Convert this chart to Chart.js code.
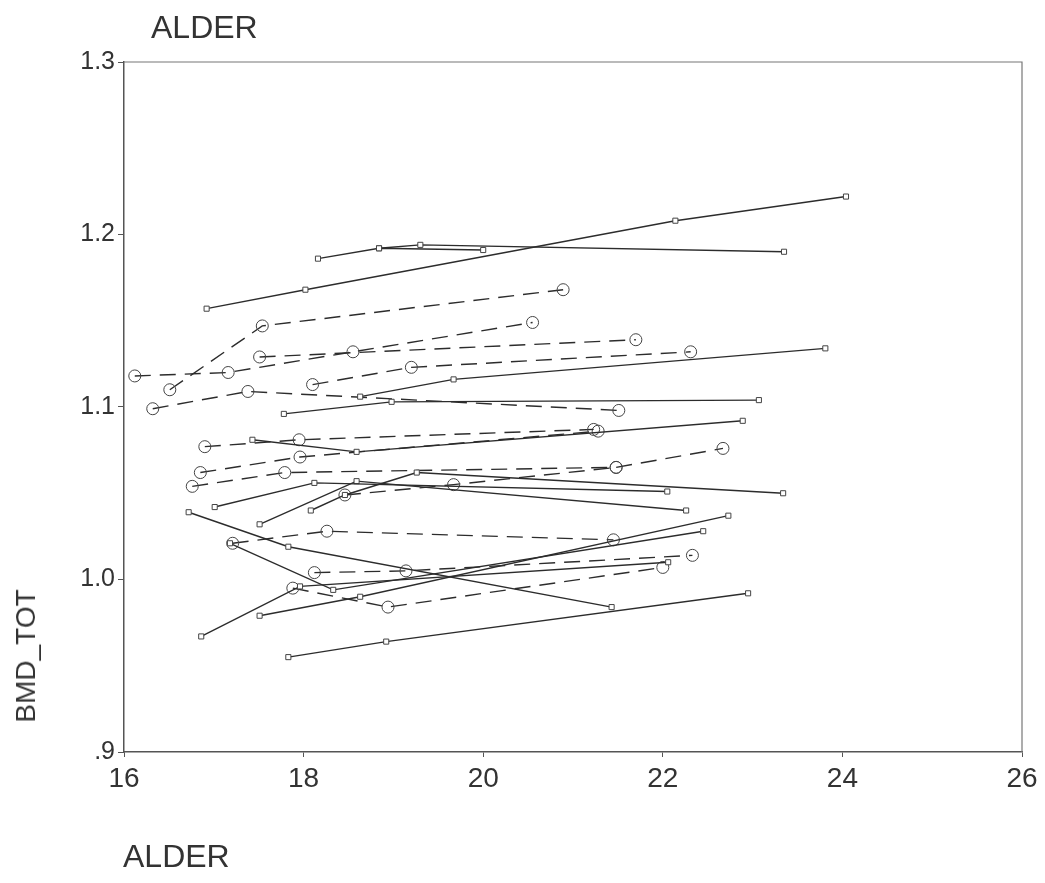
<!DOCTYPE html>
<html>
<head>
<meta charset="utf-8">
<script src="https://cdn.jsdelivr.net/npm/chart.js@4.4.1/dist/chart.umd.min.js"></script>
<style>
  html, body { margin:0; padding:0; background:#fff; }
  #wrap { position:relative; width:1045px; height:883px; overflow:hidden; }
  canvas { position:absolute; left:0; top:0; }
  .lbl { position:absolute; font-family:"Liberation Sans", Arial, sans-serif; color:#333; line-height:1; white-space:nowrap; }
</style>
</head>
<body>
<div id="wrap">
  <canvas id="c" width="1045" height="883"></canvas>
  <div class="lbl" id="tTop" style="left:151px; top:11px; font-size:32px;">ALDER</div>
  <div class="lbl" id="tY" style="left:26px; top:656px; font-size:28px; transform:translate(-50%,-50%) rotate(-90deg);">BMD_TOT</div>
  <div class="lbl" id="tBot" style="left:123px; top:840px; font-size:32px;">ALDER</div>
</div>
<script>
// ---- Data: each subject = [ALDER, BMD_TOT] pairs ----
// solid lines, square markers
const sA = [[16.92,1.157],[18.02,1.168],[22.14,1.208],[24.04,1.222]];
const sB = [[18.16,1.186],[18.84,1.192],[20.00,1.191]];
const sC = [[18.84,1.192],[19.30,1.194],[23.35,1.190]];
const sD = [[18.63,1.106],[19.67,1.116],[23.81,1.134]];
const sE = [[17.78,1.096],[18.98,1.103],[23.07,1.104]];
const sF = [[17.43,1.081],[18.59,1.074],[22.89,1.092]];
const sG = [[17.01,1.042],[18.12,1.056],[22.05,1.051]];
const sH = [[17.51,1.032],[18.59,1.057],[22.26,1.040]];
const sI = [[18.08,1.040],[18.46,1.049],[19.26,1.062],[23.34,1.050]];
const sJ = [[16.72,1.039],[17.83,1.019],[21.43,0.984]];
const sK = [[17.18,1.021],[18.33,0.994],[22.45,1.028]];
const sL = [[16.86,0.967],[17.96,0.996],[22.06,1.010]];
const sM = [[17.51,0.979],[18.63,0.990],[22.73,1.037]];
const sN = [[17.83,0.955],[18.92,0.964],[22.95,0.992]];
// dashed lines, circle markers
const dA = [[16.51,1.110],[17.54,1.147],[20.89,1.168]];
const dB = [[16.12,1.118],[17.16,1.120],[18.55,1.132],[20.55,1.149]];
const dC = [[17.51,1.129],[21.70,1.139]];
const dD = [[18.10,1.113],[19.20,1.123],[22.31,1.132]];
const dE = [[16.32,1.099],[17.38,1.109],[21.51,1.098]];
const dF = [[16.90,1.077],[17.95,1.081],[21.23,1.087]];
const dG = [[16.85,1.062],[17.96,1.071],[21.28,1.086]];
const dH = [[16.76,1.054],[17.79,1.062],[21.48,1.065],[22.67,1.076]];
const dI = [[18.46,1.049],[19.67,1.055],[21.48,1.065]];
const dJ = [[17.21,1.021],[18.26,1.028],[21.45,1.023]];
const dK = [[18.12,1.004],[19.14,1.005],[22.33,1.014]];
const dL = [[17.88,0.995],[18.94,0.984],[22.00,1.007]];

const solidSubjects = [sA,sB,sC,sD,sE,sF,sG,sH,sI,sJ,sK,sL,sM,sN];
const dashedSubjects = [dA,dB,dC,dD,dE,dF,dG,dH,dI,dJ,dK,dL];

const xTicks = [16,18,20,22,24,26];
const yTicks = [0.9,1.0,1.1,1.2,1.3];
const yTickLabels = ['.9','1.0','1.1','1.2','1.3'];

// ---- Chart ----
const lineCol = '#2c2c2c';
const toPts = arr => arr.map(p => ({x:p[0], y:p[1]}));
const datasets = [];
solidSubjects.forEach(s => datasets.push({
  data: toPts(s), showLine:true, borderColor:lineCol, borderWidth:1.4,
  pointStyle:'rect', pointRadius:3.6, pointBorderWidth:1, pointBorderColor:'#444', pointBackgroundColor:'#fff',
  tension:0
}));
dashedSubjects.forEach(s => datasets.push({
  data: toPts(s), showLine:true, borderColor:lineCol, borderWidth:1.4, borderDash:[16,9],
  pointStyle:'circle', pointRadius:6, pointBorderWidth:1, pointBorderColor:'#444', pointBackgroundColor:'rgba(255,255,255,0)',
  tension:0
}));

const boxPlugin = {
  id:'box',
  afterDraw(chart){
    const {ctx, chartArea:a} = chart;
    ctx.save();
    ctx.strokeStyle = '#777';
    ctx.lineWidth = 1.2;
    ctx.beginPath();
    ctx.moveTo(a.left, a.top); ctx.lineTo(a.right, a.top); ctx.lineTo(a.right, a.bottom);
    ctx.stroke();
    ctx.restore();
  }
};

new Chart(document.getElementById('c'), {
  type:'scatter',
  data:{ datasets },
  options:{
    responsive:false, animation:false, devicePixelRatio:1,
    layout:{ padding:{ top:62, right:23, left:0, bottom:0 } },
    plugins:{ legend:{display:false}, tooltip:{enabled:false}, title:{display:false} },
    scales:{
      x:{
        type:'linear', min:16, max:26,
        afterFit(s){ s.height = 131; },
        afterBuildTicks(s){ s.ticks = xTicks.map(v => ({value:v})); },
        grid:{ drawOnChartArea:false, tickLength:5, color:'#555', tickColor:'#555' },
        border:{ color:'#555', width:1.5 },
        ticks:{ color:'#333', padding:5, font:{ family:'"Liberation Sans", Arial, sans-serif', size:28 }, maxRotation:0,
                callback:(v) => String(v) }
      },
      y:{
        type:'linear', min:0.9, max:1.3,
        afterFit(s){ s.width = 124; },
        afterBuildTicks(s){ s.ticks = yTicks.map(v => ({value:v})); },
        grid:{ drawOnChartArea:false, tickLength:6, color:'#555', tickColor:'#555' },
        border:{ color:'#555', width:1.5 },
        ticks:{ color:'#333', padding:3, font:{ family:'"Liberation Sans", Arial, sans-serif', size:25 },
                callback:(v) => { const i = yTicks.findIndex(t => Math.abs(t - v) < 1e-9); return i >= 0 ? yTickLabels[i] : ''; } }
      }
    }
  },
  plugins:[boxPlugin]
});
</script>
</body>
</html>
